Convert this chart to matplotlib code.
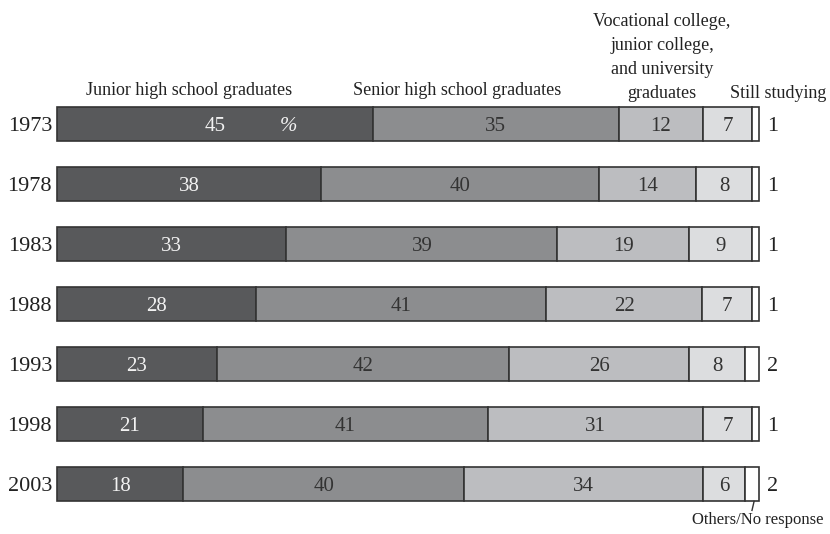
import numpy as np
import matplotlib.pyplot as plt

years = ['1973', '1978', '1983', '1988', '1993', '1998', '2003']
junior_high = [45, 38, 33, 28, 23, 21, 18]
senior_high = [35, 40, 39, 41, 42, 41, 40]
college = [12, 14, 19, 22, 26, 31, 34]
still_studying = [7, 8, 9, 7, 8, 7, 6]
others = [1, 1, 1, 1, 2, 1, 2]

series = [junior_high, senior_high, college, still_studying, others]
colors = ['#58595b', '#8c8d8f', '#bcbdc0', '#dcdddf', '#ffffff']
text_colors = ['#f2f2f2', '#333333', '#333333', '#333333', None]
headers = ['Junior high school graduates', 'Senior high school graduates',
           'Vocational college,\njunior college,\nand university\ngraduates',
           'Still studying']

plt.rcParams['font.family'] = ['Liberation Serif', 'DejaVu Serif']


def main():
    fig = plt.figure(figsize=(8.3, 5.34), dpi=100)
    ax = fig.add_axes([0, 0, 1, 1])
    # pixel-ish mapping: bar spans x 57..759, rows 60 px apart starting at y=124
    scale = 702 / 100
    ax.set_xlim(-57 / scale, (830 - 57) / scale)
    ax.set_ylim((534 - 124) / 60, -124 / 60)
    ax.axis('off')

    data = np.array(series, dtype=float)
    shares = data / data.sum(axis=0) * 100  # every bar drawn to full width
    y = np.arange(len(years))
    left = np.zeros(len(years))
    for k in range(len(series)):
        ax.barh(y, shares[k], left=left, height=0.56, color=colors[k],
                edgecolor='#333333', linewidth=1.2)
        if text_colors[k]:
            for i in range(len(years)):
                ax.text(left[i] + shares[k][i] / 2, y[i], str(series[k][i]),
                        ha='center', va='center_baseline', fontsize=15,
                        color=text_colors[k])
        left += shares[k]

    for i, yr in enumerate(years):
        ax.text(-0.7, y[i], yr, ha='right', va='center_baseline', fontsize=16,
                color='#222222')
        ax.text(left[i] + 1.1, y[i], str(others[i]), ha='left',
                va='center_baseline', fontsize=16, color='#222222')

    ax.text(33, 0, '%', ha='center', va='center_baseline', fontsize=15,
            style='italic', color='#f2f2f2')

    # column headers
    ax.text(18.8, -0.42, headers[0], ha='center', va='bottom', fontsize=13, color='#222222')
    ax.text(57, -0.42, headers[1], ha='center', va='bottom', fontsize=13, color='#222222')
    ax.text(86.2, -0.36, headers[2], ha='center', va='bottom', fontsize=13,
            color='#222222', linespacing=1.55)
    ax.text(102.8, -0.36, headers[3], ha='center', va='bottom', fontsize=13, color='#222222')

    # leader for Others/No response
    last = len(years) - 1
    ax.plot([99.3, 99.0], [last + 0.29, last + 0.44], color='#333333', lw=1)
    ax.text(109.2, last + 0.46, 'Others/No response', ha='right', va='top',
            fontsize=12, color='#222222')

    fig.savefig('out.png', dpi=100)


if __name__ == '__main__':
    main()
